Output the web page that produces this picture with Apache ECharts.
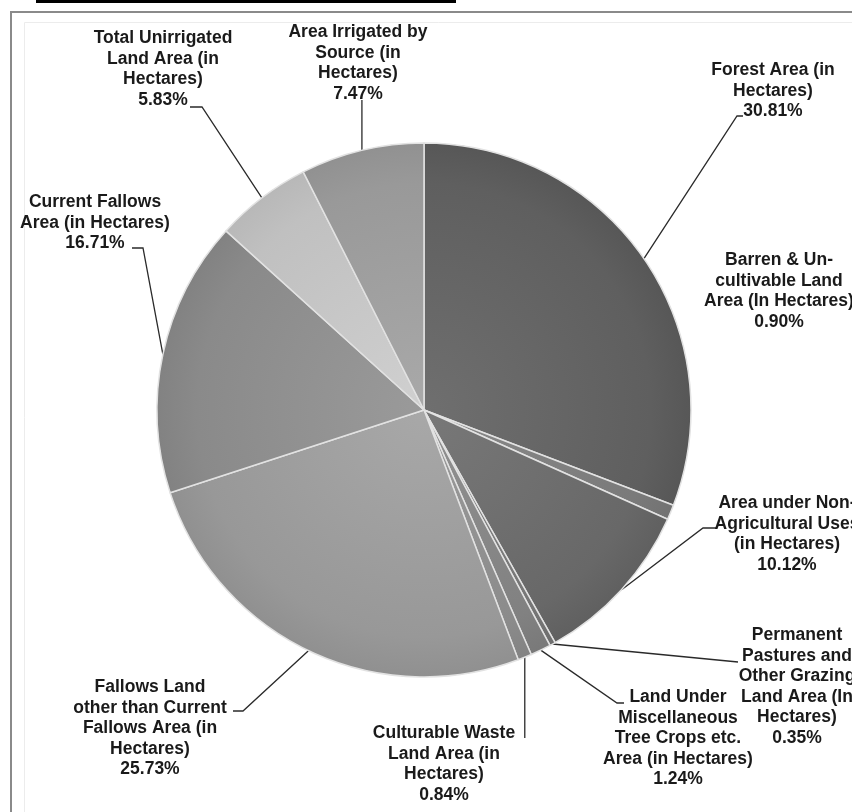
<!DOCTYPE html>
<html>
<head>
<meta charset="utf-8">
<script src="https://cdn.jsdelivr.net/npm/echarts@6/dist/echarts.min.js"></script>
<style>
  html, body { margin: 0; padding: 0; background: #ffffff; }
  #chart { width: 852px; height: 812px; }
</style>
</head>
<body>
<div id="chart"></div>
<script>
// Land use categories (label text, wrapped as printed)
const categories = [
  'Forest Area (in\nHectares)',
  'Barren & Un-\ncultivable Land\nArea (In Hectares)',
  'Area under Non-\nAgricultural Uses\n(in Hectares)',
  'Permanent\nPastures and\nOther Grazing\nLand Area (In\nHectares)',
  'Land Under\nMiscellaneous\nTree Crops etc.\nArea (in Hectares)',
  'Culturable Waste\nLand Area (in\nHectares)',
  'Fallows Land\nother than Current\nFallows Area (in\nHectares)',
  'Current Fallows\nArea (in Hectares)',
  'Total Unirrigated\nLand Area (in\nHectares)',
  'Area Irrigated by\nSource (in\nHectares)'
];

// Share of total area, percent
const shares = [30.81, 0.90, 10.12, 0.35, 1.24, 0.84, 25.73, 16.71, 5.83, 7.47];

// Grey tone of each slice
const sliceColors = [
  '#636363', '#7e7e7e', '#6c6c6c', '#7a7a7a', '#858585',
  '#8f8f8f', '#9c9c9c', '#8e8e8e', '#c4c4c4', '#9d9d9d'
];

// Label block placement: [centre x, top y]
const labelAnchors = [
  [773, 60], [779, 250], [787, 493], [797, 625], [678, 687],
  [444, 723], [150, 677], [95, 192], [163, 28], [358, 22]
];

// Leader line bends after the slice edge point (null x = keep edge x)
const leaderBends = [
  [[737, 116], [743, 116]],
  null,
  [[703, 528], [716, 528]],
  [[738, 662]],
  [[617, 703], [624, 703]],
  [[null, 738]],
  [[243, 711], [233, 711]],
  [[143, 248], [132, 248]],
  [[202, 107], [190, 107]],
  [[null, 100]]
];

const PIE_CX = 424, PIE_CY = 410, PIE_R = 267;

function shade(hex, amt) {
  const v = parseInt(hex.slice(1), 16);
  const ch = [(v >> 16) & 255, (v >> 8) & 255, v & 255].map(c => Math.max(0, Math.min(255, c + amt)));
  return 'rgb(' + ch.join(',') + ')';
}

function sliceFill(hex) {
  return {
    type: 'radial', x: PIE_CX, y: PIE_CY, r: PIE_R, global: true,
    colorStops: [
      { offset: 0, color: shade(hex, 12) },
      { offset: 0.85, color: shade(hex, -4) },
      { offset: 1, color: shade(hex, -12) }
    ]
  };
}

const chart = echarts.init(document.getElementById('chart'), null, { renderer: 'canvas' });

chart.setOption({
  backgroundColor: '#ffffff',
  animation: false,
  graphic: [
    { type: 'rect', z: 0, shape: { x: 36, y: 0, width: 420, height: 3 }, style: { fill: '#000000' } },
    { type: 'rect', z: 0, shape: { x: 11, y: 12, width: 900, height: 900 }, style: { fill: null, stroke: '#8a8a8a', lineWidth: 2 } },
    { type: 'rect', z: 0, shape: { x: 24.5, y: 22.5, width: 900, height: 900 }, style: { fill: null, stroke: '#ececec', lineWidth: 1 } }
  ],
  series: [{
    type: 'pie',
    center: [PIE_CX, PIE_CY],
    radius: PIE_R,
    startAngle: 90,
    clockwise: true,
    avoidLabelOverlap: false,
    emphasis: { disabled: true },
    itemStyle: { borderColor: '#e2e2e2', borderWidth: 1.5 },
    label: {
      show: true,
      formatter: p => p.name + '\n' + p.percent.toFixed(2) + '%',
      fontFamily: '"Liberation Sans", Arial, sans-serif',
      fontWeight: 'bold',
      fontSize: 17.5,
      lineHeight: 20.5,
      color: '#1a1a1a',
      align: 'center'
    },
    labelLine: {
      show: true,
      length: 10,
      length2: 10,
      lineStyle: { color: '#2a2a2a', width: 1.3 }
    },
    labelLayout: function (p) {
      const i = p.dataIndex;
      const out = {
        x: labelAnchors[i][0],
        y: labelAnchors[i][1],
        align: 'center',
        verticalAlign: 'top'
      };
      const bends = leaderBends[i];
      if (bends && p.labelLinePoints) {
        const edge = p.labelLinePoints[0];
        out.labelLinePoints = [edge.slice()].concat(
          bends.map(b => [b[0] == null ? edge[0] : b[0], b[1]])
        );
      }
      return out;
    },
    data: categories.map((name, i) => ({
      name: name,
      value: shares[i],
      itemStyle: { color: sliceFill(sliceColors[i]) },
      labelLine: { show: leaderBends[i] != null }
    }))
  }]
});
</script>
</body>
</html>
